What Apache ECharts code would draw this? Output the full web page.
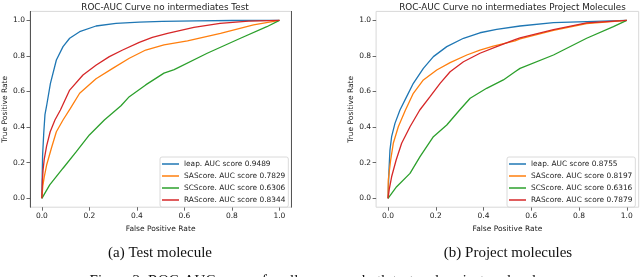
<!DOCTYPE html>
<html>
<head>
<meta charset="utf-8">
<script src="https://cdn.jsdelivr.net/npm/echarts@6/dist/echarts.min.js"></script>
<style>
html,body{margin:0;padding:0;background:#fff;}
#c{width:640px;height:277px;}
</style>
</head>
<body>
<div id="c"></div>
<script>
// ---- Data ----
const tickValues = [0, 0.2, 0.4, 0.6, 0.8, 1.0];

const titleTest = 'ROC-AUC Curve no intermediates Test';
const titleProject = 'ROC-AUC Curve no intermediates Project Molecules';
const xLabel = 'False Positive Rate';
const yLabel = 'True Positive Rate';
const captionA = '(a) Test molecule';
const captionB = '(b) Project molecules';
const figCaption = 'Figure 2: ROC-AUC curves for all scores on both test and project molecules.';

const testNames = ['leap. AUC score 0.9489', 'SAScore. AUC score 0.7829', 'SCScore. AUC score 0.6306', 'RAScore. AUC score 0.8344'];
const projNames = ['leap. AUC score 0.8755', 'SAScore. AUC score 0.8197', 'SCScore. AUC score 0.6316', 'RAScore. AUC score 0.7879'];

// Test set curves
const testLeapFpr = [0, 0.001, 0.003, 0.008, 0.013, 0.02, 0.036, 0.061, 0.089, 0.117, 0.159, 0.228, 0.312, 0.41, 0.507, 0.65, 0.8, 1];
const testLeapTpr = [0, 0.09, 0.24, 0.37, 0.47, 0.52, 0.646, 0.777, 0.852, 0.899, 0.936, 0.968, 0.983, 0.99, 0.994, 0.997, 0.999, 1];

const testSaFpr = [0, 0.004, 0.01, 0.02, 0.04, 0.061, 0.089, 0.12, 0.159, 0.228, 0.298, 0.368, 0.437, 0.514, 0.613, 0.752, 0.891, 1];
const testSaTpr = [0, 0.07, 0.12, 0.187, 0.281, 0.374, 0.44, 0.505, 0.59, 0.672, 0.73, 0.787, 0.833, 0.862, 0.885, 0.927, 0.974, 1];

const testScFpr = [0, 0.033, 0.089, 0.145, 0.2, 0.263, 0.333, 0.368, 0.437, 0.514, 0.557, 0.696, 0.836, 0.947, 1];
const testScTpr = [0, 0.075, 0.169, 0.262, 0.356, 0.44, 0.52, 0.571, 0.637, 0.703, 0.723, 0.815, 0.899, 0.964, 1];

const testRaFpr = [0, 0.002, 0.005, 0.01, 0.02, 0.035, 0.055, 0.078, 0.117, 0.173, 0.229, 0.284, 0.34, 0.41, 0.465, 0.529, 0.64, 0.75, 0.87, 1];
const testRaTpr = [0, 0.09, 0.16, 0.22, 0.295, 0.374, 0.44, 0.496, 0.608, 0.693, 0.749, 0.796, 0.833, 0.876, 0.904, 0.927, 0.96, 0.983, 0.995, 1];

// Project molecules curves
const projLeapFpr = [0, 0.004, 0.008, 0.015, 0.029, 0.05, 0.078, 0.106, 0.148, 0.19, 0.246, 0.316, 0.385, 0.455, 0.553, 0.693, 0.832, 1];
const projLeapTpr = [0, 0.159, 0.271, 0.346, 0.421, 0.496, 0.571, 0.646, 0.73, 0.796, 0.852, 0.899, 0.93, 0.949, 0.968, 0.987, 0.993, 1];

const projSaFpr = [0, 0.001, 0.011, 0.022, 0.043, 0.073, 0.106, 0.148, 0.204, 0.26, 0.33, 0.385, 0.441, 0.532, 0.553, 0.693, 0.832, 1];
const projSaTpr = [0, 0.103, 0.215, 0.309, 0.402, 0.496, 0.59, 0.665, 0.721, 0.762, 0.805, 0.833, 0.855, 0.885, 0.895, 0.943, 0.982, 1];

const projScFpr = [0, 0.036, 0.092, 0.134, 0.19, 0.246, 0.3, 0.344, 0.413, 0.483, 0.532, 0.553, 0.693, 0.832, 0.944, 1];
const projScTpr = [0, 0.065, 0.14, 0.234, 0.346, 0.412, 0.496, 0.562, 0.618, 0.665, 0.711, 0.73, 0.805, 0.899, 0.964, 1];

const projRaFpr = [0, 0.005, 0.015, 0.034, 0.057, 0.092, 0.133, 0.176, 0.218, 0.26, 0.316, 0.385, 0.455, 0.532, 0.553, 0.693, 0.832, 1];
const projRaTpr = [0, 0.05, 0.121, 0.215, 0.309, 0.402, 0.496, 0.571, 0.646, 0.711, 0.767, 0.815, 0.852, 0.891, 0.901, 0.948, 0.985, 1];

const colors = ['#1f77b4', '#ff7f0e', '#2ca02c', '#d62728'];

// ---- Build chart ----
function pairs(xs, ys) { return xs.map((x, i) => [x, ys[i]]); }

const testSeriesData = [pairs(testLeapFpr, testLeapTpr), pairs(testSaFpr, testSaTpr), pairs(testScFpr, testScTpr), pairs(testRaFpr, testRaTpr)];
const projSeriesData = [pairs(projLeapFpr, projLeapTpr), pairs(projSaFpr, projSaTpr), pairs(projScFpr, projScTpr), pairs(projRaFpr, projRaTpr)];

const FONT = 'DejaVu Sans';
const SERIF = 'Liberation Serif';
const TICK_FS = 7.5;

function xAxisFor(gi) {
  return {
    type: 'value', gridIndex: gi, min: -0.05, max: 1.05, position: 'bottom',
    name: xLabel, nameLocation: 'middle', nameGap: 15,
    nameTextStyle: { fontFamily: FONT, fontSize: TICK_FS, color: '#222' },
    axisLine: { show: false, onZero: false },
    axisTick: { show: true, length: 3.5, customValues: tickValues, lineStyle: { color: '#444', width: 0.8 } },
    axisLabel: { customValues: tickValues, margin: 5, fontFamily: FONT, fontSize: TICK_FS, color: '#222', formatter: v => v.toFixed(1) },
    splitLine: { show: false }
  };
}
function yAxisFor(gi, dark) {
  return {
    type: 'value', gridIndex: gi, min: -0.05, max: 1.05, position: 'left',
    name: yLabel, nameLocation: 'middle', nameGap: 21, nameRotate: 90,
    nameTextStyle: { fontFamily: FONT, fontSize: TICK_FS, color: '#222' },
    axisLine: { show: dark, onZero: false, lineStyle: { color: '#555', width: 1 } },
    axisTick: { show: true, length: 3.5, customValues: tickValues, lineStyle: { color: '#444', width: 0.8 } },
    axisLabel: { customValues: tickValues, margin: 5, fontFamily: FONT, fontSize: TICK_FS, color: '#222', formatter: v => v.toFixed(1) },
    splitLine: { show: false }
  };
}

const series = [];
testNames.forEach((n, i) => series.push({
  type: 'line', name: n, xAxisIndex: 0, yAxisIndex: 0, data: testSeriesData[i],
  showSymbol: false, symbol: 'none', lineStyle: { width: 1.3, color: colors[i] }, itemStyle: { color: colors[i] },
  z: i === 3 ? 3 : 2, animation: false
}));
projNames.forEach((n, i) => series.push({
  type: 'line', name: n, xAxisIndex: 1, yAxisIndex: 2, data: projSeriesData[i],
  showSymbol: false, symbol: 'none', lineStyle: { width: 1.3, color: colors[i] }, itemStyle: { color: colors[i] },
  z: i === 3 ? 3 : 2, animation: false
}));

function legendFor(names, left) {
  return {
    data: names, orient: 'vertical', left: left, top: 157,
    icon: 'rect', itemWidth: 17, itemHeight: 1.5, itemGap: 4,
    padding: [3, 3, 3, 2],
    backgroundColor: '#fff', borderColor: '#d0d0d0', borderWidth: 0.8, borderRadius: 2,
    textStyle: { fontFamily: FONT, fontSize: 7.4, color: '#222', lineHeight: 8 },
    selectedMode: false
  };
}

const titleStyle = { fontFamily: FONT, fontSize: 8.8, fontWeight: 'normal', color: '#222', lineHeight: 10 };
const capStyle = { fontFamily: SERIF, fontSize: 15, fontWeight: 'normal', color: '#111', lineHeight: 16 };

const chart = echarts.init(document.getElementById('c'), null, { renderer: 'canvas' });
chart.setOption({
  animation: false,
  backgroundColor: '#fff',
  title: [
    { text: titleTest, left: 160, top: -2, textAlign: 'center', textStyle: titleStyle },
    { text: titleProject, left: 507.5, top: -2, textAlign: 'center', textStyle: titleStyle },
    { text: captionA, left: 155, top: 240, textAlign: 'center', textStyle: capStyle },
    { text: captionB, left: 503, top: 240, textAlign: 'center', textStyle: capStyle },
    { text: figCaption, left: 316, top: 268, textAlign: 'center', textStyle: capStyle }
  ],
  grid: [
    { left: 28, top: 11.4, width: 263.3, height: 195.8, show: true, borderColor: '#d8d8d8', borderWidth: 1, backgroundColor: 'transparent' },
    { left: 376.1, top: 11.4, width: 262.6, height: 195.8, show: true, borderColor: '#d8d8d8', borderWidth: 1, backgroundColor: 'transparent' }
  ],
  xAxis: [xAxisFor(0), xAxisFor(1)],
  yAxis: [
    yAxisFor(0, true),
    { type: 'value', gridIndex: 0, position: 'right', min: -0.05, max: 1.05, axisLine: { show: true, onZero: false, lineStyle: { color: '#555', width: 1 } }, axisTick: { show: false }, axisLabel: { show: false }, splitLine: { show: false } },
    yAxisFor(1, false)
  ],
  legend: [legendFor(testNames, 160), legendFor(projNames, 507)],
  series: series
});
</script>
</body>
</html>
